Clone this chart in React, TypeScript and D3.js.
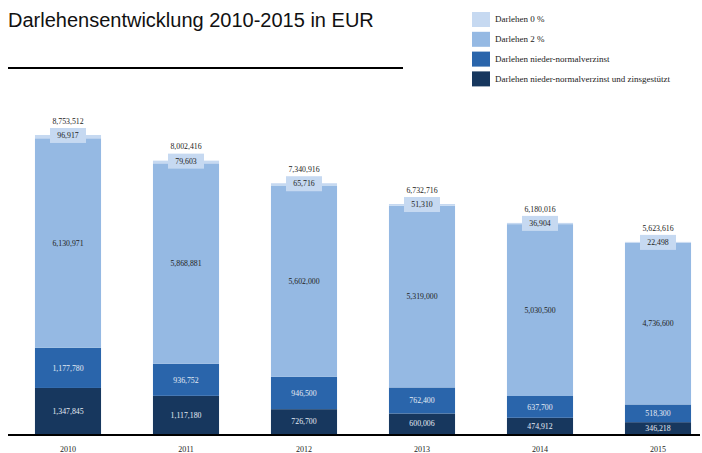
import React from "react";
import * as d3 from "d3";

const years = ["2010", "2011", "2012", "2013", "2014", "2015"];
const zeroPct = [96917, 79603, 65716, 51310, 36904, 22498];
const twoPct = [6130971, 5868881, 5602000, 5319000, 5030500, 4736600];
const nieder = [1177780, 936752, 946500, 762400, 637700, 518300];
const zins = [1347845, 1117180, 726700, 600006, 474912, 346218];
const totals = [8753512, 8002416, 7340916, 6732716, 6180016, 5623616];

const seriesNames = [
  "Darlehen 0 %",
  "Darlehen 2 %",
  "Darlehen nieder-normalverzinst",
  "Darlehen nieder-normalverzinst und zinsgestützt",
];
const colors = ["#c6d9f1", "#95b9e3", "#2a65ab", "#17375e"];

const W = 702;
const H = 453;
const baseY = 434;
const serif = "'Liberation Serif', 'Times New Roman', serif";

export default function App() {
  const x = d3
    .scaleBand<string>()
    .domain(years)
    .range([9, 717])
    .paddingInner(0.44)
    .paddingOuter(0.22);
  const y = d3.scaleLinear().domain([0, 9000000]).range([baseY, baseY - 9 * 34.16]);
  const fmt = d3.format(",");

  const rows = years.map((yr, i) => ({
    year: yr,
    zins: zins[i],
    nieder: nieder[i],
    two: twoPct[i],
    zero: zeroPct[i],
  }));
  const stack = d3.stack<any>().keys(["zins", "nieder", "two", "zero"])(rows);
  const colorByKey: Record<string, string> = {
    zero: colors[0],
    two: colors[1],
    nieder: colors[2],
    zins: colors[3],
  };
  const textByKey: Record<string, string> = {
    two: "#222",
    nieder: "#e6edf5",
    zins: "#e6edf5",
  };

  const bw = x.bandwidth();

  return (
    <svg
      width={W}
      height={H}
      style={{ position: "absolute", left: 0, top: 0, background: "#fff" }}
    >
      <text
        x={8}
        y={27}
        fontFamily="'Liberation Sans', Arial, sans-serif"
        fontSize={20}
        fill="#111"
      >
        Darlehensentwicklung 2010-2015 in EUR
      </text>
      <line x1={8} x2={403} y1={68} y2={68} stroke="#000" strokeWidth={2} />

      {/* legend */}
      {seriesNames.map((n, i) => (
        <g key={n} transform={`translate(472, ${12 + i * 19.8})`}>
          <rect width={18} height={15} fill={colors[i]} />
          <text x={23} y={7} dy="0.35em" fontFamily={serif} fontSize={9} fill="#222">
            {n}
          </text>
        </g>
      ))}

      {/* bars */}
      {stack.map((s) => (
        <g key={s.key} fill={colorByKey[s.key]}>
          {s.map((d, i) => (
            <rect
              key={i}
              x={x(years[i])}
              y={y(d[1])}
              width={bw}
              height={y(d[0]) - y(d[1])}
            />
          ))}
        </g>
      ))}

      {/* segment labels */}
      {stack
        .filter((s) => s.key !== "zero")
        .map((s) => (
          <g key={"l" + s.key}>
            {s.map((d, i) => (
              <text
                key={i}
                x={(x(years[i]) as number) + bw / 2}
                y={(y(d[0]) + y(d[1])) / 2}
                dy="0.35em"
                textAnchor="middle"
                fontFamily={serif}
                fontSize={7.8}
                fill={textByKey[s.key]}
              >
                {fmt((s.key === "zins" ? zins : s.key === "nieder" ? nieder : twoPct)[i])}
              </text>
            ))}
          </g>
        ))}

      {/* 0% labels with boxes and totals */}
      {years.map((yr, i) => {
        const cx = (x(yr) as number) + bw / 2;
        const top = y(zins[i] + nieder[i] + twoPct[i] + zeroPct[i]);
        return (
          <g key={"t" + yr}>
            <rect x={cx - 18} y={top - 7} width={36} height={15} fill={colors[0]} />
            <text
              x={cx}
              y={top + 0.5}
              dy="0.35em"
              textAnchor="middle"
              fontFamily={serif}
              fontSize={7.8}
              fill="#222"
            >
              {fmt(zeroPct[i])}
            </text>
            <text
              x={cx}
              y={top - 14}
              dy="0.35em"
              textAnchor="middle"
              fontFamily={serif}
              fontSize={7.8}
              fill="#222"
            >
              {fmt(totals[i])}
            </text>
          </g>
        );
      })}

      <line x1={8} x2={700} y1={baseY + 1} y2={baseY + 1} stroke="#000" strokeWidth={2} />

      {years.map((yr) => (
        <text
          key={"y" + yr}
          x={(x(yr) as number) + bw / 2}
          y={449}
          dy="0.35em"
          textAnchor="middle"
          fontFamily={serif}
          fontSize={8}
          fill="#222"
        >
          {yr}
        </text>
      ))}
    </svg>
  );
}
